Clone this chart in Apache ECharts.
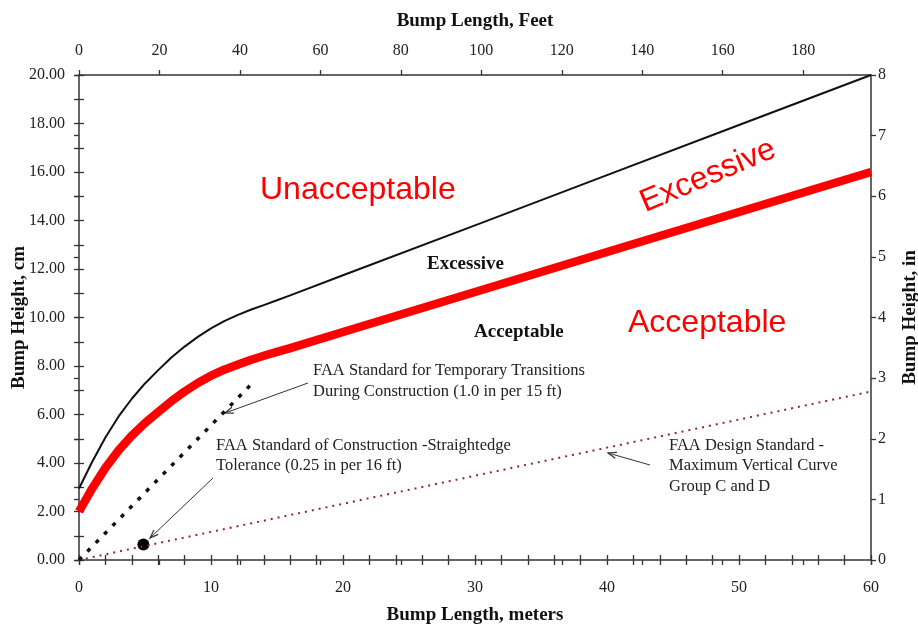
<!DOCTYPE html>
<html>
<head>
<meta charset="utf-8">
<script src="https://cdn.jsdelivr.net/npm/echarts@6/dist/echarts.min.js"></script>
<style>
  html, body { margin: 0; padding: 0; background: #fff; }
  #chart { width: 918px; height: 624px; }
</style>
</head>
<body>
<div id="chart"></div>
<script>
// bump length in metres, shared by both criteria curves
const lengthM = [0, 1, 2, 3, 4, 5, 6, 7, 8, 9, 10, 11, 12, 13, 14, 15, 16, 20, 30, 40, 50, 60];
// upper limit (Unacceptable / Excessive boundary), cm
const excessiveLimit = [2.95, 4.05, 5.05, 5.92, 6.65, 7.28, 7.83, 8.35, 8.8, 9.2, 9.55, 9.85, 10.1, 10.32, 10.51, 10.71, 10.91, 11.74, 13.8, 15.87, 17.94, 20.0];
// red limit (Excessive / Acceptable boundary), cm
const acceptableLimit = [2.0, 2.95, 3.8, 4.52, 5.13, 5.65, 6.1, 6.55, 6.95, 7.3, 7.6, 7.85, 8.05, 8.25, 8.42, 8.58, 8.74, 9.4, 11.05, 12.7, 14.35, 16.0];
// FAA temporary transitions, 1.0 in per 15 ft
const temporaryLine = [[0, 0], [13.2, 7.33]];
// FAA design standard, max vertical curve group C and D
const designLine = [[0, 0], [60, 6.95]];
// straightedge tolerance point, 0.25 in per 16 ft
const straightedgePoint = [[4.877, 0.635]];

const cmTicks = { min: 0, max: 20, interval: 2 };
const inTicks = { min: 0, max: 8, interval: 1 };
const feetMax = 60 / 0.3048;

const serif = '"Liberation Serif", "Times New Roman", serif';
const sans = '"Liberation Sans", Arial, sans-serif';
const axisCol = '#333';

const chart = echarts.init(document.getElementById('chart'));

const gridBox = { left: 79, right: 47, top: 75, bottom: 64, containLabel: false, outerBoundsMode: 'none' };

function labelStyle(extra) {
    return Object.assign({ color: '#222', fontFamily: serif, fontSize: 16 }, extra);
}

const nameStyle = { color: '#111', fontFamily: serif, fontSize: 19, fontWeight: 'bold' };

// second grid on top of the first: only inward ticks, so ticks cross the axis lines
function innerAxis(base) {
    return Object.assign({
        gridIndex: 1,
        axisLine: { show: false },
        axisLabel: { show: false },
        splitLine: { show: false },
        axisTick: { show: true, inside: true, length: 5, lineStyle: { color: axisCol, width: 1.3 } }
    }, base);
}

function arrow(x1, y1, x2, y2) {
    const a = Math.atan2(y2 - y1, x2 - x1);
    const h = 9, w = 0.35;
    return {
        type: 'group',
        children: [
            { type: 'line', shape: { x1: x1, y1: y1, x2: x2, y2: y2 }, style: { stroke: '#333', lineWidth: 1 } },
            {
                type: 'polyline',
                shape: { points: [
                    [x2 - h * Math.cos(a - w), y2 - h * Math.sin(a - w)],
                    [x2, y2],
                    [x2 - h * Math.cos(a + w), y2 - h * Math.sin(a + w)]
                ] },
                style: { stroke: '#333', lineWidth: 1.2, fill: null }
            }
        ]
    };
}

function note(text, x, y, font, fill) {
    return { type: 'text', x: x, y: y, style: { text: text, font: font, fill: fill || '#222', verticalAlign: 'middle' } };
}

const option = {
    backgroundColor: '#fff',
    animation: false,
    grid: [
        Object.assign({}, gridBox),
        Object.assign({}, gridBox)
    ],
    xAxis: [
        {
            type: 'value', gridIndex: 0, position: 'bottom',
            min: 0, max: 60, interval: 10,
            name: 'Bump Length, meters', nameLocation: 'middle', nameGap: 46, nameTextStyle: nameStyle,
            axisLine: { show: true, onZero: false, lineStyle: { color: axisCol, width: 1.5 } },
            axisTick: { show: true, length: 5, lineStyle: { color: axisCol, width: 1.3 } },
            minorTick: { show: true, splitNumber: 5, length: 5, lineStyle: { color: axisCol, width: 1.3 } },
            axisLabel: labelStyle({ margin: 20 }),
            splitLine: { show: false }
        },
        {
            type: 'value', gridIndex: 0, position: 'top',
            min: 0, max: feetMax, interval: 20,
            name: 'Bump Length, Feet', nameLocation: 'middle', nameGap: 44, nameTextStyle: nameStyle,
            axisLine: { show: true, onZero: false, lineStyle: { color: axisCol, width: 1.5 } },
            axisTick: { show: true, length: 5, lineStyle: { color: axisCol, width: 1.3 } },
            axisLabel: labelStyle({ margin: 16, showMaxLabel: false }),
            splitLine: { show: false }
        },
        innerAxis({ type: 'value', position: 'bottom', min: 0, max: 60, interval: 10,
            minorTick: { show: true, splitNumber: 5, length: 5, lineStyle: { color: axisCol, width: 1.3 } } }),
        innerAxis({ type: 'value', position: 'top', min: 0, max: feetMax, interval: 20 })
    ],
    yAxis: [
        {
            type: 'value', gridIndex: 0, position: 'left',
            min: cmTicks.min, max: cmTicks.max, interval: cmTicks.interval,
            name: 'Bump Height, cm', nameLocation: 'middle', nameGap: 50, nameRotate: 90, nameTextStyle: nameStyle,
            nameMoveOverlap: false,
            axisLine: { show: true, onZero: false, lineStyle: { color: axisCol, width: 1.5 } },
            axisTick: { show: true, length: 5, lineStyle: { color: axisCol, width: 1.3 } },
            minorTick: { show: true, splitNumber: 2, length: 5, lineStyle: { color: axisCol, width: 1.3 } },
            axisLabel: labelStyle({ margin: 14, formatter: v => v.toFixed(2) }),
            splitLine: { show: false }
        },
        {
            type: 'value', gridIndex: 0, position: 'right',
            min: inTicks.min, max: inTicks.max, interval: inTicks.interval,
            name: 'Bump Height, in', nameLocation: 'middle', nameGap: 30, nameRotate: 90, nameTextStyle: nameStyle,
            axisLine: { show: true, onZero: false, lineStyle: { color: axisCol, width: 1.5 } },
            axisTick: { show: true, length: 5, lineStyle: { color: axisCol, width: 1.3 } },
            axisLabel: labelStyle({ margin: 7 }),
            splitLine: { show: false }
        },
        innerAxis({ type: 'value', position: 'left', min: cmTicks.min, max: cmTicks.max, interval: cmTicks.interval,
            minorTick: { show: true, splitNumber: 2, length: 5, lineStyle: { color: axisCol, width: 1.3 } } }),
        innerAxis({ type: 'value', position: 'right', min: inTicks.min, max: inTicks.max, interval: inTicks.interval })
    ],
    series: [
        {
            name: 'FAA design standard', type: 'line', xAxisIndex: 0, yAxisIndex: 0,
            data: designLine, symbol: 'none',
            lineStyle: { color: '#8b2b2b', width: 2, type: [2, 5] }
        },
        {
            name: 'FAA temporary transitions', type: 'line', xAxisIndex: 0, yAxisIndex: 0,
            data: temporaryLine, symbol: 'none',
            lineStyle: { color: '#111', width: 3.5, type: [4, 8] }
        },
        {
            name: 'Excessive limit', type: 'line', xAxisIndex: 0, yAxisIndex: 0,
            data: lengthM.map((x, i) => [x, excessiveLimit[i]]),
            smooth: false, symbol: 'none',
            lineStyle: { color: '#111', width: 2, join: 'round' }
        },
        {
            name: 'Acceptable limit', type: 'line', xAxisIndex: 0, yAxisIndex: 0,
            data: lengthM.map((x, i) => [x, acceptableLimit[i]]),
            smooth: false, symbol: 'none',
            lineStyle: { color: '#ff0000', width: 8.5, join: 'round' }
        },
        {
            name: 'Straightedge tolerance', type: 'scatter', xAxisIndex: 0, yAxisIndex: 0,
            data: straightedgePoint, symbol: 'circle', symbolSize: 12,
            itemStyle: { color: '#000', opacity: 1 }
        }
    ],
    graphic: [
        note('Unacceptable', 260, 190, '32px ' + sans, '#ff0000'),
        note('Acceptable', 628, 323, '32px ' + sans, '#ff0000'),
        {
            type: 'text', x: 708, y: 176, rotation: 23 * Math.PI / 180,
            style: { text: 'Excessive', font: '32px ' + sans, fill: '#ff0000', align: 'center', verticalAlign: 'middle' }
        },
        note('Excessive', 427, 264, 'bold 19px ' + serif, '#111'),
        note('Acceptable', 474, 332, 'bold 19px ' + serif, '#111'),
        note('FAA Standard for Temporary Transitions', 313, 371, '16.5px ' + serif),
        note('During Construction (1.0 in per 15 ft)', 313, 392, '16.5px ' + serif),
        note('FAA Standard of Construction -Straightedge', 216, 446, '16.5px ' + serif),
        note('Tolerance (0.25 in per 16 ft)', 216, 466, '16.5px ' + serif),
        note('FAA Design Standard -', 669, 446, '16.5px ' + serif),
        note('Maximum Vertical Curve', 669, 466, '16.5px ' + serif),
        note('Group C and D', 669, 487, '16.5px ' + serif),
        arrow(308, 383, 225, 413),
        arrow(213, 478, 150, 538),
        arrow(650, 465, 608, 453)
    ]
};

chart.setOption(option);
</script>
</body>
</html>
